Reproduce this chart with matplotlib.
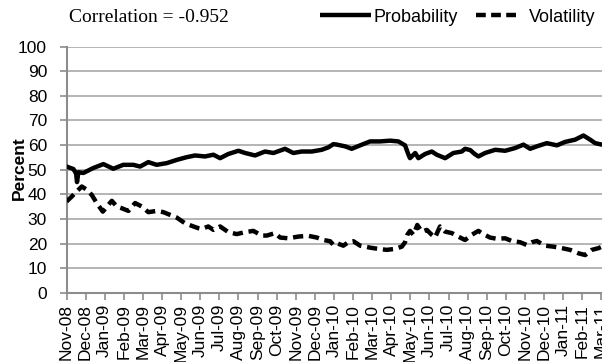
import numpy as np
import matplotlib
matplotlib.use("Agg")
import matplotlib.pyplot as plt
from matplotlib.lines import Line2D

plt.rcParams['font.family'] = ['Liberation Sans', 'DejaVu Sans']

# month offsets from Nov-08 (0 = Nov-08, 28 = Mar-11)
month_labels = ["Nov-08", "Dec-08", "Jan-09", "Feb-09", "Mar-09", "Apr-09", "May-09",
                "Jun-09", "Jul-09", "Aug-09", "Sep-09", "Oct-09", "Nov-09", "Dec-09",
                "Jan-10", "Feb-10", "Mar-10", "Apr-10", "May-10", "Jun-10", "Jul-10",
                "Aug-10", "Sep-10", "Oct-10", "Nov-10", "Dec-10", "Jan-11", "Feb-11",
                "Mar-11"]

prob_t = [0.0, 0.36, 0.5, 0.55, 0.62, 0.88, 1.40, 1.93, 2.45, 2.97, 3.5, 3.85, 4.28,
          4.72, 5.25, 5.77, 6.29, 6.73, 7.25, 7.69, 8.04, 8.47, 9.0, 9.35, 9.87, 10.39,
          10.83, 11.44, 11.87, 12.31, 12.84, 13.36, 13.71, 13.97, 14.15, 14.58, 14.93,
          15.37, 15.89, 16.41, 16.94, 17.37, 17.72, 17.9, 17.98, 18.25, 18.42, 18.77,
          19.12, 19.38, 19.82, 20.25, 20.69, 20.86, 21.13, 21.35, 21.56, 21.91, 22.44,
          22.96, 23.48, 23.92, 24.27, 24.62, 25.14, 25.67, 26.1, 26.62, 27.06, 27.41,
          27.67, 28.02]
prob = [51.3, 50.3, 48.5, 45.0, 49.0, 48.7, 50.7, 52.3, 50.4, 52.0, 52.0, 51.3, 53.1,
        52.0, 52.7, 54.0, 55.1, 55.8, 55.4, 56.1, 54.7, 56.4, 57.7, 56.8, 55.8, 57.4,
        56.8, 58.5, 56.8, 57.4, 57.4, 58.1, 59.1, 60.4, 60.2, 59.5, 58.5,
        59.9, 61.5, 61.5, 61.8, 61.5, 59.9, 56.1, 54.7, 56.8, 54.7, 56.4,
        57.4, 56.1, 54.7, 56.8, 57.4, 58.5, 58.0, 56.5, 55.4, 56.8, 58.1,
        57.7, 58.8, 60.2, 58.5, 59.5, 60.8, 59.9, 61.3, 62.2, 63.9, 62.2,
        60.8, 60.2]

vol_t = [0.0, 0.27, 0.53, 0.80, 1.06, 1.32, 1.58, 1.90, 2.19, 2.37, 2.63, 2.89, 3.24,
         3.59, 3.94, 4.28, 4.72, 5.07, 5.42, 5.77, 6.2, 6.64, 6.9, 7.08, 7.42, 7.69,
         8.04, 8.47, 8.91, 9.35, 9.78, 10.22, 10.48, 10.92, 11.18, 11.61, 12.14, 12.66,
         13.1, 13.45, 13.8, 13.97, 14.15, 14.49, 14.75, 15.02, 15.37, 15.89, 16.32,
         16.76, 17.2, 17.55, 17.72, 17.84, 17.98, 18.16, 18.36, 18.6, 18.86, 19.12,
         19.29, 19.55, 19.82, 20.17, 20.5, 20.86, 21.21, 21.56, 21.82, 22.17, 22.52,
         22.96, 23.31, 23.74, 24.09, 24.36, 24.62, 25.05, 25.49, 25.93, 26.36, 26.8,
         27.15, 27.5, 27.85, 28.02]
vol = [37.1, 39.1, 41.2, 43.2, 41.9, 39.8, 36.5, 33.0, 35.8, 37.4, 35.1, 34.4, 33.3,
       36.5, 35.1, 32.8, 33.3, 32.8, 31.7, 30.6, 28.3, 27.0, 26.3, 26.0, 27.0, 25.6,
       27.0, 24.7, 23.9, 24.7, 25.2, 23.3, 23.3, 24.3, 22.5, 22.2, 22.9, 23.2,
       22.5, 21.5, 21.0, 19.5, 20.2, 19.2, 20.6, 21.0, 19.2, 18.4, 17.9,
       17.5, 17.9, 18.8, 20.6, 23.6, 25.2, 23.6, 27.6, 24.9, 25.6, 23.6,
       22.5, 27.0, 24.9, 24.3, 22.9, 21.5, 23.6, 25.2, 23.9, 22.5, 22.0,
       22.2, 21.1, 20.6, 19.5, 20.6, 21.1, 19.2, 18.8, 18.2, 17.5, 16.1,
       15.4, 17.5, 18.2, 18.8]

fig = plt.figure(figsize=(6.02, 3.62), dpi=100)
ax = fig.add_axes([0.1105, 0.1906, 0.8895, 0.6809])

ax.plot(prob_t, prob, color='black', lw=3.2, solid_joinstyle='round',
        solid_capstyle='round', zorder=3)
ax.plot(vol_t, vol, color='black', lw=3.2, dashes=(2.3, 1.3), zorder=3)

ax.set_xlim(0, 28.03)
ax.set_ylim(0, 100)
ax.set_yticks(np.arange(0, 101, 10))
ax.set_xticks(np.arange(len(month_labels)))
ax.set_xticklabels(month_labels, rotation=90, fontsize=12.5)
ax.tick_params(axis='y', labelsize=12.5, length=5, color='#8c8c8c', width=1.2, pad=9)
ax.tick_params(axis='x', length=5, color='#8c8c8c', width=1.2, pad=3)

ax.grid(axis='y', color='#a0a0a0', lw=1.1)
ax.set_axisbelow(True)
for s in ['top', 'right']:
    ax.spines[s].set_visible(False)
for s in ['left', 'bottom']:
    ax.spines[s].set_color('#8c8c8c')
    ax.spines[s].set_linewidth(1.5)

ax.set_ylabel('Percent', fontsize=12.5, fontweight='bold')
ax.yaxis.set_label_coords(-0.074, 0.507)

fig.text(69 / 602, 1 - 18 / 362, 'Correlation = -0.952', family='Liberation Serif',
         fontsize=14, va='center', ha='left')

# legend keys: three dashes then a gap before the text, like the original
h_prob = Line2D([], [], color='black', lw=3.2, solid_capstyle='butt')
h_vol = Line2D([], [], color='black', lw=3.2, dashes=(2.2, 1.2, 2.2, 1.2, 2.2, 3.0))
fig.legend([h_prob, h_vol], ['Probability', 'Volatility'], loc='center left',
           bbox_to_anchor=(320 / 602, 1 - 17 / 362), ncol=2,
           frameon=False, fontsize=13, handlelength=2.8, handletextpad=0.15,
           columnspacing=1.0, borderpad=0, borderaxespad=0)

fig.savefig('out.png', dpi=100)
